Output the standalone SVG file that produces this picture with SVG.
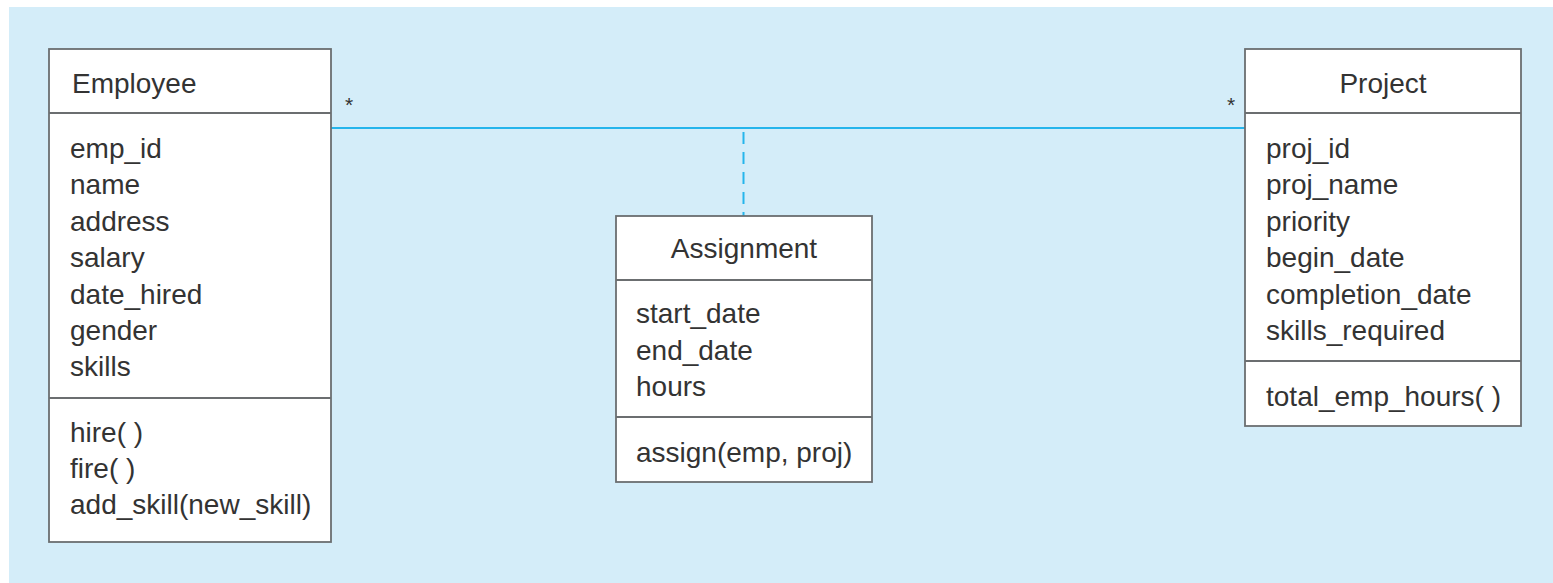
<svg xmlns="http://www.w3.org/2000/svg" width="1553" height="583" viewBox="0 0 1553 583">
<style>
.box{fill:#ffffff;stroke:#6b6e70;stroke-width:1.8}
.div{stroke:#6b6e70;stroke-width:1.8}
.t{font-family:"Liberation Sans",Arial,sans-serif;font-size:28px;fill:#333333}
.c{text-anchor:middle}
.star{font-family:"Liberation Sans",Arial,sans-serif;font-size:21px;fill:#333333;text-anchor:middle}
.assoc{stroke:#25b5ec;stroke-width:2;fill:none}
.dash{stroke-dasharray:12 8}
</style>
<rect x="0" y="0" width="1553" height="583" fill="#ffffff"/>
<rect x="9" y="7" width="1544" height="576" fill="#d4edf9"/>
<g id="connectors">
<line class="assoc" x1="331" y1="128" x2="1245" y2="128"/>
<line class="assoc dash" x1="743.5" y1="132" x2="743.5" y2="216"/>
<text class="star" x="349" y="112">*</text>
<text class="star" x="1231" y="112">*</text>
</g>
<g id="employee">
<rect class="box" x="49" y="49" width="282" height="493"/>
<line class="div" x1="49" y1="113" x2="331" y2="113"/>
<line class="div" x1="49" y1="398" x2="331" y2="398"/>
<text class="t" x="72" y="93">Employee</text>
<text class="t" x="70" y="158">emp_id</text>
<text class="t" x="70" y="194.4">name</text>
<text class="t" x="70" y="230.8">address</text>
<text class="t" x="70" y="267.2">salary</text>
<text class="t" x="70" y="303.6">date_hired</text>
<text class="t" x="70" y="340">gender</text>
<text class="t" x="70" y="376.4">skills</text>
<text class="t" x="70" y="442">hire( )</text>
<text class="t" x="70" y="478">fire( )</text>
<text class="t" x="70" y="514">add_skill(new_skill)</text>
</g>
<g id="assignment">
<rect class="box" x="616" y="216" width="256" height="266"/>
<line class="div" x1="616" y1="280" x2="872" y2="280"/>
<line class="div" x1="616" y1="417" x2="872" y2="417"/>
<text class="t c" x="744" y="258">Assignment</text>
<text class="t" x="636" y="323">start_date</text>
<text class="t" x="636" y="359.5">end_date</text>
<text class="t" x="636" y="395.5">hours</text>
<text class="t" x="636" y="462">assign(emp, proj)</text>
</g>
<g id="project">
<rect class="box" x="1245" y="49" width="276" height="377"/>
<line class="div" x1="1245" y1="113" x2="1521" y2="113"/>
<line class="div" x1="1245" y1="361" x2="1521" y2="361"/>
<text class="t c" x="1383" y="93">Project</text>
<text class="t" x="1266" y="158">proj_id</text>
<text class="t" x="1266" y="194.4">proj_name</text>
<text class="t" x="1266" y="230.8">priority</text>
<text class="t" x="1266" y="267.2">begin_date</text>
<text class="t" x="1266" y="303.6">completion_date</text>
<text class="t" x="1266" y="340">skills_required</text>
<text class="t" x="1266" y="406">total_emp_hours( )</text>
</g>
</svg>
